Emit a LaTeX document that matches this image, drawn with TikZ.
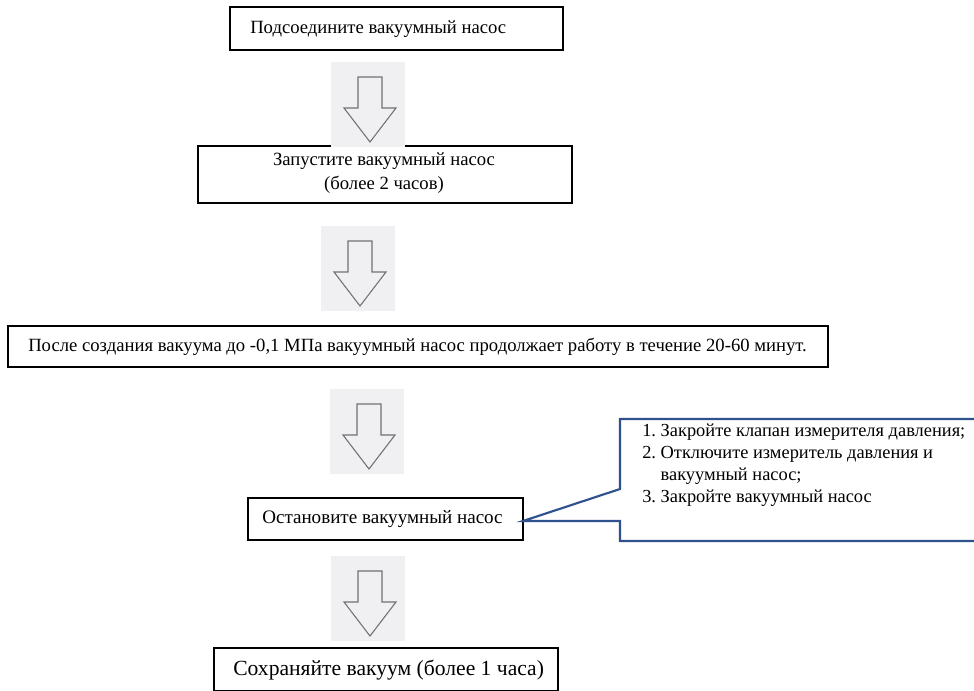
\documentclass[tikz,border=0pt]{standalone}
\usepackage{fontspec}
\setmainfont{Liberation Serif}
\usetikzlibrary{fit}
\definecolor{arrowbg}{RGB}{240,240,243}
\definecolor{arrowgray}{RGB}{112,112,118}
\definecolor{calloutblue}{RGB}{47,82,143}
\newcommand{\myblockarrow}[3]{%
  \begin{scope}[shift={(#1,#2)}]
    \fill[arrowbg] (0,0) rectangle (74,85);
    \draw[arrline] (27,15) -- (51,15) -- (51,46) -- (65,46) -- (39,80) -- (13,46) -- (27,46) -- cycle;
    \coordinate (#3) at (39,42);
  \end{scope}}
\begin{document}
\begin{tikzpicture}[x=0.75pt,y=-0.75pt,
  box/.style={draw=black, line width=0.9pt, inner sep=0pt},
  txt/.style={font=\fontsize{14}{14.5}\selectfont, inner sep=0pt},
  bigtxt/.style={font=\fontsize{16.2}{19}\selectfont, inner sep=0pt},
  arrline/.style={draw=arrowgray, line width=0.8pt, line join=miter},
  callout/.style={draw=calloutblue, line width=1.6pt, line join=miter}]
\useasboundingbox (0,0) rectangle (974,691);
\clip (0,0) rectangle (974,691);
\fill[white] (0,0) rectangle (974,691);

% boxes
\node[box, fit={(230,7) (563,50)}] (b1) {};
\node[txt, anchor=west] (t1) at (250,29) {Подсоедините вакуумный насос};

\node[box, fit={(198,146) (572,203)}] (b2) {};
\node[txt, align=center] (t2) at (384,173) {Запустите вакуумный насос\\[3.5pt](более 2 часов)};

\node[box, fit={(8,326) (828,367)}] (b3) {};
\node[txt, anchor=west] (t3) at (28,347) {После создания вакуума до -0,1 МПа вакуумный насос продолжает работу в течение 20-60 минут.};

\node[box, fit={(248,498) (523,540)}] (b4) {};
\node[txt, anchor=west, font=\fontsize{14.3}{15}\selectfont] (t4) at (262,519) {Остановите вакуумный насос};

\node[box, fit={(214,648) (558,691)}] (b5) {};
\node[bigtxt, anchor=west] (t5) at (233,670) {Сохраняйте вакуум (более 1 часа)};

% block arrows
\myblockarrow{331}{62}{a1}
\myblockarrow{321}{226}{a2}
\myblockarrow{330}{389}{a3}
\myblockarrow{331}{556}{a4}

% callout
\coordinate (c1) at (990,419);
\coordinate (c2) at (620,419);
\coordinate (c3) at (620,489);
\coordinate (tip) at (523,521);
\coordinate (c4) at (620,521);
\coordinate (c5) at (620,541);
\coordinate (c6) at (990,541);
\draw[callout] (c1) -- (c2) -- (c3) -- (tip) -- (c4) -- (c5) -- (c6);
\node[txt, anchor=north west, align=left, font=\fontsize{13.8}{16.5}\selectfont] (ct) at (642,424)
  {1.\ Закройте клапан измерителя давления;\\
   2.\ Отключите измеритель давления и\\
   \hphantom{2.\ }вакуумный насос;\\
   3.\ Закройте вакуумный насос};
\end{tikzpicture}
\end{document}
